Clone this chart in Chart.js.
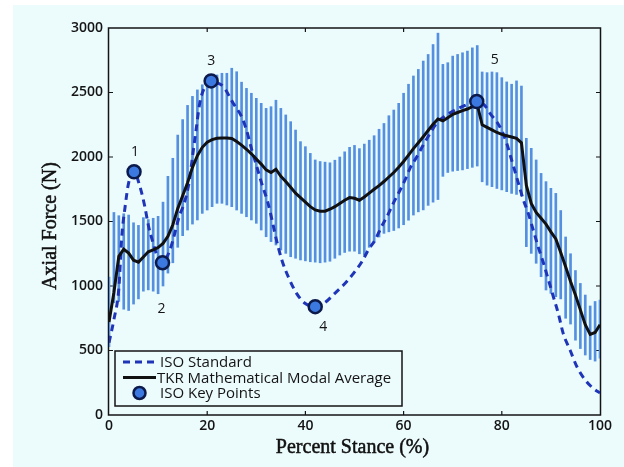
<!DOCTYPE html>
<html>
<head>
<meta charset="utf-8">
<script src="https://cdn.jsdelivr.net/npm/chart.js@4/dist/chart.umd.min.js"></script>
<style>
  html, body { margin: 0; padding: 0; background: #ffffff; }
  #wrap { position: relative; width: 624px; height: 467px; }
</style>
</head>
<body>
<div id="wrap"><canvas id="chart" width="624" height="467"></canvas></div>
<script>
// Percent of stance phase at which the modal average and its spread are sampled
const stancePct = [
  0,1,2,3,4,5,6,7,8,9,10,11,12,13,14,15,16,17,18,19,20,
  21,22,23,24,25,26,27,28,29,30,31,32,33,34,35,36,37,38,39,40,
  41,42,43,44,45,46,47,48,49,50,51,52,53,54,55,56,57,58,59,60,
  61,62,63,64,65,66,67,68,69,70,71,72,73,74,75,76,77,78,79,80,
  81,82,83,84,85,86,87,88,89,90,91,92,93,94,95,96,97,98,99,100
];

// TKR mathematical modal average axial force (N)
const tkrAverage = [
  720,950,1230,1285,1255,1200,1185,1225,1265,1280,1298,
  1330,1385,1475,1600,1700,1800,1920,2010,2075,2115,
  2135,2145,2148,2148,2143,2120,2092,2060,2025,1985,
  1945,1900,1880,1905,1850,1810,1765,1720,1685,1650,
  1615,1590,1580,1580,1595,1615,1640,1665,1685,1680,
  1665,1690,1720,1750,1778,1810,1845,1880,1920,1965,
  2015,2065,2110,2157,2205,2255,2295,2280,2305,2330,
  2345,2360,2372,2390,2405,2250,2230,2210,2190,2175,
  2165,2155,2145,2110,1780,1640,1570,1525,1480,1420,
  1365,1260,1150,1035,930,815,700,625,640,700
];

// Upper end of the spread bar at each stance percentage (N)
const spreadUpper = [
  1070,1570,1545,1560,1550,1490,1470,1530,1515,1525,1540,
  1650,1850,1990,2170,2290,2400,2470,2520,2560,2600,
  2625,2636,2649,2649,2688,2661,2580,2532,2494,2455,
  2416,2377,2390,2440,2377,2326,2274,2209,2119,2080,
  2028,1977,1965,1960,1955,1975,2000,2040,2075,2090,
  2065,2100,2130,2165,2215,2260,2320,2364,2416,2494,
  2564,2628,2679,2744,2795,2872,2960,2718,2731,2782,
  2795,2808,2821,2846,2864,2659,2654,2659,2654,2615,
  2582,2564,2590,2550,2145,2067,1977,1873,1809,1757,
  1718,1585,1380,1250,1120,1020,930,845,880,890
];

// Lower end of the spread bar at each stance percentage (N)
const spreadLower = [
  530,870,880,820,810,860,900,960,970,960,940,
  1000,1100,1180,1300,1390,1434,1480,1512,1563,1589,
  1615,1641,1641,1628,1615,1589,1563,1537,1512,1486,
  1434,1382,1344,1318,1279,1253,1227,1215,1202,1195,
  1188,1185,1180,1185,1192,1215,1240,1260,1270,1270,
  1250,1240,1300,1340,1380,1408,1420,1430,1450,1475,
  1510,1550,1575,1590,1625,1650,1670,1850,1880,1890,
  1895,1900,1910,1920,1930,1808,1782,1770,1756,1745,
  1731,1718,1710,1700,1305,1253,1176,1072,969,943,
  917,900,750,705,580,515,465,430,418,440
];

// ISO standard axial force curve
const isoStance = [
  0,1,2,2.6,3.3,4,5.1,6.3,7.3,8,9,10,10.9,12.4,13.4,14.3,15.3,16.3,17,17.7,18.5,19.6,20.8,
  22,23.3,25.3,27,28,29.1,30.1,31.1,32.4,33.5,34.1,35.2,36.5,38.2,39.9,42,
  44,46,48.1,49.8,51.5,52.8,54.2,55.5,56.6,57.9,59.3,60.3,61.3,62.7,64,65.4,66.7,
  68.5,70.5,72.5,74.9,76.5,77.6,79.6,81,82,83,84.4,85.4,86.4,87.4,88.5,89.5,
  90.5,91.5,92.5,93.9,95.3,97,98.6,100
];
const isoForce = [
  560,740,980,1380,1620,1800,1886,1770,1615,1473,1331,1215,1181,1279,1409,1540,1640,1800,2000,2200,2420,2550,2590,
  2575,2545,2416,2313,2209,2054,1925,1796,1641,1460,1357,1202,1072,943,866,840,
  872,943,1021,1098,1188,1279,1357,1460,1537,1641,1744,1822,1912,2002,2093,2184,2261,
  2320,2365,2400,2430,2400,2339,2235,2106,1977,1847,1667,1563,1434,1305,1176,1047,
  917,788,633,504,374,271,207,170
];

// ISO key points and their numbering
const keyStance = [5.1, 10.9, 20.8, 42, 74.9];
const keyForce  = [1886, 1181, 2590, 840, 2430];
const keyLabels = ['1', '2', '3', '4', '5'];
// pixel offsets of each number from its point
const keyLabelOffsets = [[1, -20], [-1, 46], [0, -20], [8, 20], [18, -42]];

// Axis ticks
const xTicks = [0, 20, 40, 60, 80, 100];
const yTicks = [0, 500, 1000, 1500, 2000, 2500, 3000];

const PAPER = '#ecfbfc';
const BAR_BLUE = '#5590e0';
const ISO_BLUE = '#1f35b8';
const POINT_FILL = '#3b78e0';
const POINT_EDGE = '#0b1a4a';
const INK = '#141414';

// Page background, axes box, inward tick marks, titles, point numbers and legend
const decorations = {
  id: 'decorations',
  beforeDraw(chart) {
    const c = chart.ctx;
    c.save();
    c.fillStyle = '#ffffff';
    c.fillRect(0, 0, chart.width, chart.height);
    c.fillStyle = PAPER;
    c.fillRect(13, 5, chart.width - 13, chart.height - 5);
    c.restore();
  },
  beforeDatasetsDraw(chart) {
    const c = chart.ctx, a = chart.chartArea;
    const xs = chart.scales.x, ys = chart.scales.y;
    c.save();
    c.strokeStyle = INK;
    c.lineWidth = 1.5;
    c.strokeRect(a.left - 0.5, a.top, a.right - a.left + 1, a.bottom - a.top);
    c.lineWidth = 1.2;
    c.beginPath();
    xTicks.slice(1, -1).forEach(v => {
      const px = xs.getPixelForValue(v);
      c.moveTo(px, a.bottom); c.lineTo(px, a.bottom - 4);
      c.moveTo(px, a.top); c.lineTo(px, a.top + 4);
    });
    yTicks.slice(1, -1).forEach(v => {
      const py = ys.getPixelForValue(v);
      c.moveTo(a.left, py); c.lineTo(a.left + 4, py);
      c.moveTo(a.right, py); c.lineTo(a.right - 4, py);
    });
    c.stroke();
    c.restore();
  },
  afterDraw(chart) {
    const c = chart.ctx, a = chart.chartArea;
    const xs = chart.scales.x, ys = chart.scales.y;
    c.save();
    // axis titles
    c.fillStyle = '#111111';
    c.strokeStyle = '#111111';
    c.lineWidth = 0.5;
    c.font = '20px "Liberation Serif", "Times New Roman", serif';
    c.textAlign = 'center';
    c.textBaseline = 'middle';
    const xt = 'Percent Stance (%)';
    c.fillText(xt, (a.left + a.right) / 2 - 2, 448);
    c.strokeText(xt, (a.left + a.right) / 2 - 2, 448);
    c.save();
    c.translate(51, 226);
    c.rotate(-Math.PI / 2);
    c.fillText('Axial Force (N)', 0, 0);
    c.strokeText('Axial Force (N)', 0, 0);
    c.restore();

    // key point numbers
    c.font = '14px "Open Sans", sans-serif';
    c.fillStyle = INK;
    keyLabels.forEach((t, i) => {
      const px = xs.getPixelForValue(keyStance[i]) + keyLabelOffsets[i][0];
      const py = ys.getPixelForValue(keyForce[i]) + keyLabelOffsets[i][1];
      c.fillText(t, px, py);
    });

    // legend
    const L = { x: 115, y: 351, w: 287, h: 55 };
    c.fillStyle = PAPER;
    c.fillRect(L.x, L.y, L.w, L.h);
    c.strokeStyle = INK;
    c.lineWidth = 1.5;
    c.strokeRect(L.x, L.y, L.w, L.h);
    const rows = [362, 377.5, 393];
    c.lineWidth = 3;
    c.strokeStyle = ISO_BLUE;
    c.setLineDash([7, 5]);
    c.beginPath(); c.moveTo(123, rows[0]); c.lineTo(156, rows[0]); c.stroke();
    c.setLineDash([]);
    c.strokeStyle = '#111111';
    c.beginPath(); c.moveTo(123, rows[1]); c.lineTo(156, rows[1]); c.stroke();
    c.beginPath();
    c.arc(139.5, rows[2], 6, 0, Math.PI * 2);
    c.fillStyle = POINT_FILL; c.fill();
    c.lineWidth = 2.5; c.strokeStyle = POINT_EDGE; c.stroke();
    c.fillStyle = INK;
    c.textAlign = 'left';
    c.font = '15px "Open Sans", sans-serif';
    c.fillText('ISO Standard', 160, rows[0] + 1);
    c.fillText('TKR Mathematical Modal Average', 157, rows[1] + 1);
    c.fillText('ISO Key Points', 160, rows[2] + 1);
    c.restore();
  }
};

const tickFont = { family: '"Open Sans", sans-serif', size: 14, weight: '600' };

new Chart(document.getElementById('chart'), {
  type: 'bar',
  data: {
    datasets: [
      {
        type: 'bar',
        label: 'Spread',
        data: stancePct.map((x, i) => ({ x: x, y: [spreadLower[i], spreadUpper[i]] })),
        backgroundColor: BAR_BLUE,
        borderWidth: 0,
        barThickness: 2,
        order: 4
      },
      {
        type: 'line',
        label: 'ISO Standard',
        data: isoStance.map((x, i) => ({ x: x, y: isoForce[i] })),
        borderColor: ISO_BLUE,
        borderWidth: 3,
        borderDash: [7, 5],
        pointRadius: 0,
        cubicInterpolationMode: 'monotone',
        fill: false,
        order: 3
      },
      {
        type: 'line',
        label: 'TKR Mathematical Modal Average',
        data: stancePct.map((x, i) => ({ x: x, y: tkrAverage[i] })),
        borderColor: '#111111',
        borderWidth: 3,
        pointRadius: 0,
        tension: 0,
        fill: false,
        order: 2
      },
      {
        type: 'scatter',
        label: 'ISO Key Points',
        data: keyStance.map((x, i) => ({ x: x, y: keyForce[i] })),
        pointRadius: 6.5,
        pointBackgroundColor: POINT_FILL,
        pointBorderColor: POINT_EDGE,
        pointBorderWidth: 2.5,
        showLine: false,
        order: 1
      }
    ]
  },
  options: {
    responsive: false,
    animation: false,
    devicePixelRatio: 1,
    layout: { padding: { left: 0, right: 24, top: 28, bottom: 0 } },
    plugins: { legend: { display: false }, tooltip: { enabled: false } },
    scales: {
      x: {
        type: 'linear',
        min: 0, max: 100,
        offset: false,
        afterBuildTicks(s) { s.ticks = xTicks.map(v => ({ value: v })); },
        afterFit(s) { s.height = 52; },
        grid: { display: false, drawTicks: false },
        border: { display: false },
        ticks: { color: INK, font: tickFont, padding: 3, maxRotation: 0, callback: v => String(v) }
      },
      y: {
        type: 'linear',
        min: 0, max: 3000,
        afterBuildTicks(s) { s.ticks = yTicks.map(v => ({ value: v })); },
        afterFit(s) { s.width = 109; },
        grid: { display: false, drawTicks: false },
        border: { display: false },
        ticks: { color: INK, font: tickFont, padding: 6, callback: v => String(v) }
      }
    }
  },
  plugins: [decorations]
});
</script>
</body>
</html>
